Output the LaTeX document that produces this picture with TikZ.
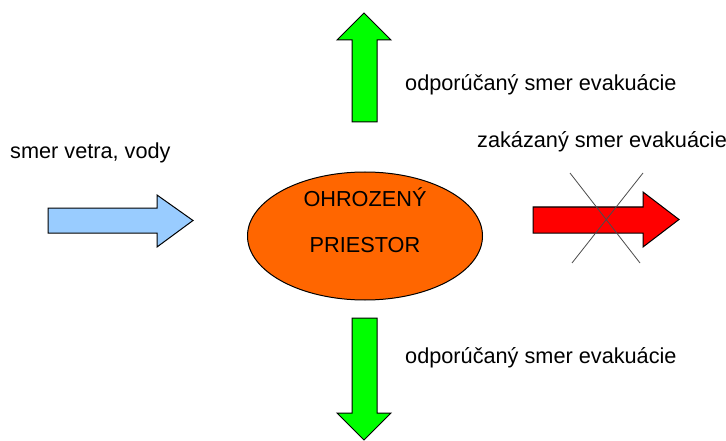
\documentclass[tikz,border=0pt]{standalone}
\usepackage{fontspec}
\setmainfont{Liberation Sans}
\usetikzlibrary{shapes.geometric}

\definecolor{windblue}{HTML}{99CCFF}
\definecolor{zoneorange}{HTML}{FF6600}
\definecolor{safegreen}{HTML}{00FF00}
\definecolor{banred}{HTML}{FF0000}

\begin{document}
\begin{tikzpicture}[
    x = 1pt, y = -1pt,
    every node/.style = {font = \fontsize{21.7}{26}\selectfont, inner sep = 0pt},
    block/.style = {draw = black, line width = 1pt, line join = miter},
    caption/.style = {anchor = west}]

\useasboundingbox (0,0) rectangle (726,441);

% ohrozeny priestor
\node[ellipse, block, fill = zoneorange, minimum width = 235, minimum height = 128]
      (zone) at (365,236) {};
\path (365,197) node(ohr) {OHROZENÝ}
      (365,245) node(pri) {PRIESTOR};

% smer vetra
\draw[block, fill = windblue]
      (48,208) -- (157,208) -- (157,195) -- (193,220.5) --
      (157,247) -- (157,233) -- (48,233) -- cycle;
\node[caption] (wind) at (10,153) {smer vetra, vody};

% odporucane smery
\draw[block, fill = safegreen]
      (352,122) -- (352,40) -- (337,40) -- (364,13) --
      (391,40) -- (377,40) -- (377,122) -- cycle;
\draw[block, fill = safegreen]
      (352,318) -- (352,413) -- (337,413) -- (364,440) --
      (391,413) -- (377,413) -- (377,318) -- cycle;
\node[caption] (up) at (405,85) {odporúčaný smer evakuácie};
\node[caption] (down) at (405,358) {odporúčaný smer evakuácie};

% zakazany smer
\draw[block, fill = banred]
      (533,207) -- (643,207) -- (643,192) -- (679,219.5) --
      (643,247) -- (643,233) -- (533,233) -- cycle;
\coordinate (x1) at (570,173);
\coordinate (x2) at (640,263);
\coordinate (x3) at (643,173);
\coordinate (x4) at (572,263);
\draw[black!70, line width = 0.8pt] (x1) -- (x2) (x3) -- (x4);
\node[caption] (ban) at (477,142) {zakázaný smer evakuácie};
\end{tikzpicture}
\end{document}
